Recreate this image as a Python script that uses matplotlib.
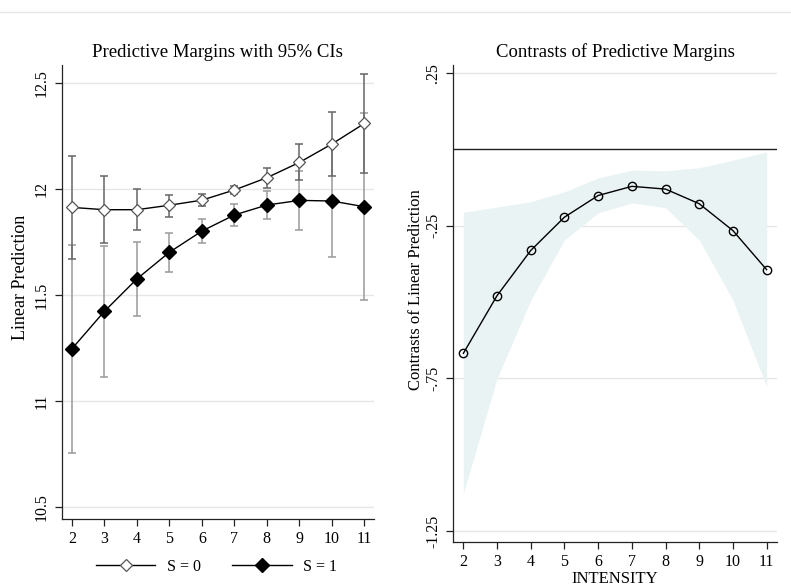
import matplotlib
matplotlib.use("Agg")
import matplotlib.pyplot as plt
from matplotlib.lines import Line2D
import numpy as np

plt.rcParams['font.family'] = ['Liberation Serif', 'DejaVu Serif']

# Predictive margins, S = 0 and S = 1, by intensity
intensity = [2, 3, 4, 5, 6, 7, 8, 9, 10, 11]
s0_margin = [11.915, 11.904, 11.904, 11.925, 11.949, 11.997, 12.055, 12.127, 12.214, 12.311]
s0_lower = [11.671, 11.745, 11.810, 11.871, 11.920, 11.976, 12.008, 12.042, 12.065, 12.078]
s0_upper = [12.159, 12.063, 12.000, 11.973, 11.978, 12.017, 12.099, 12.212, 12.363, 12.544]
s1_margin = [11.247, 11.424, 11.577, 11.703, 11.803, 11.879, 11.926, 11.948, 11.945, 11.918]
s1_lower = [10.755, 11.114, 11.401, 11.611, 11.745, 11.828, 11.861, 11.808, 11.679, 11.478]
s1_upper = [11.737, 11.734, 11.753, 11.795, 11.861, 11.930, 11.991, 12.088, 12.211, 12.358]

# Contrasts (S=1 vs S=0)
contrast = [-0.668, -0.479, -0.331, -0.222, -0.151, -0.121, -0.130, -0.178, -0.266, -0.394]
contrast_lower = [-1.127, -0.750, -0.494, -0.297, -0.208, -0.175, -0.191, -0.297, -0.494, -0.777]
contrast_upper = [-0.206, -0.189, -0.171, -0.139, -0.093, -0.068, -0.070, -0.060, -0.035, -0.008]

left_yticks = [10.5, 11, 11.5, 12, 12.5]
left_ylabels = ["10.5", "11", "11.5", "12", "12.5"]
right_yticks = [-1.25, -0.75, -0.25, 0.25]
right_ylabels = ["-1.25", "-.75", "-.25", ".25"]

GRID = "#e6e6e6"

fig = plt.figure(figsize=(7.91, 5.87), dpi=100)
fig.add_artist(Line2D([0, 1], [1 - 11.5 / 587, 1 - 11.5 / 587], color="#e8e8e8", lw=1))


def style_axes(ax):
    for side in ("top", "right"):
        ax.spines[side].set_visible(False)
    for side in ("left", "bottom"):
        ax.spines[side].set_linewidth(0.9)
        ax.spines[side].set_color("#222222")
    ax.tick_params(axis="both", direction="out", length=5, width=0.9,
                   color="#222222", labelsize=11.5)
    ax.tick_params(axis="y", labelrotation=90)
    for lbl in ax.get_yticklabels():
        lbl.set_va("center")
    ax.set_xticks(intensity)
    ax.set_axisbelow(True)


# ---- left panel ----
ax1 = fig.add_axes([0.078, 0.1163, 0.395, 0.7727])
ax1.set_yticks(left_yticks)
ax1.set_yticklabels(left_ylabels)
for yv in left_yticks:
    ax1.axhline(yv, color=GRID, lw=1, zorder=0)

x = np.array(intensity)
s0m = np.array(s0_margin)
s1m = np.array(s1_margin)
ax1.errorbar(x, s1m, yerr=[s1m - np.array(s1_lower), np.array(s1_upper) - s1m],
             fmt="none", ecolor="#9a9a9a", elinewidth=1.1, capsize=2.6, capthick=1.1, zorder=2)
ax1.errorbar(x, s0m, yerr=[s0m - np.array(s0_lower), np.array(s0_upper) - s0m],
             fmt="none", ecolor="#666666", elinewidth=1.1, capsize=2.6, capthick=1.1, zorder=2)
h0, = ax1.plot(x, s0m, color="black", lw=1, marker="D", ms=6.5, mfc="white",
               mec="#555555", mew=0.9, zorder=3, label="S = 0")
h1, = ax1.plot(x, s1m, color="black", lw=1, marker="D", ms=7, mfc="black",
               mec="black", zorder=4, label="S = 1")
ax1.set_xlim(1.69, 11.30)
ax1.set_ylim(10.446, 12.586)
ax1.set_ylabel("Linear Prediction", fontsize=13)
ax1.yaxis.set_label_coords(-0.105, 0.532)
ax1.set_title("Predictive Margins with 95% CIs", fontsize=13.5, pad=6)
style_axes(ax1)
fig.legend(handles=[h0, h1], loc="center", bbox_to_anchor=(0.2737, 0.034),
           ncol=2, frameon=False, fontsize=11.5, handlelength=3.7,
           columnspacing=2.0, handletextpad=0.7)

# ---- right panel ----
ax2 = fig.add_axes([0.573, 0.0767, 0.409, 0.8123])
ax2.set_yticks(right_yticks)
ax2.set_yticklabels(right_ylabels)
for yv in right_yticks:
    ax2.axhline(yv, color=GRID, lw=1, zorder=0)
ax2.fill_between(x, contrast_lower, contrast_upper, color="#eaf3f3", lw=0, zorder=1)
ax2.axhline(0, color="#222222", lw=1, zorder=2)
ax2.plot(x, contrast, color="black", lw=1, marker="o", ms=6, mfc="none",
         mec="black", mew=1, zorder=3)
ax2.set_xlim(1.70, 11.30)
ax2.set_ylim(-1.286, 0.276)
ax2.set_ylabel("Contrasts of Linear Prediction", fontsize=12)
ax2.yaxis.set_label_coords(-0.091, 0.530)
ax2.set_xlabel("INTENSITY", fontsize=12, labelpad=1)
ax2.set_title("Contrasts of Predictive Margins", fontsize=13.5, pad=6)
style_axes(ax2)

fig.savefig("out.png", dpi=100)
